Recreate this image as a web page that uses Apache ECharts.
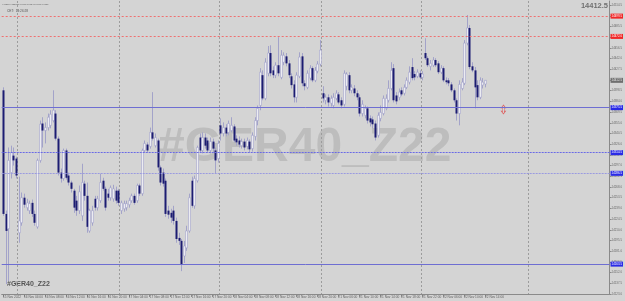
<!DOCTYPE html>
<html><head><meta charset="utf-8">
<script src="https://cdn.jsdelivr.net/npm/echarts@6/dist/echarts.min.js"></script>
<style>html,body{margin:0;padding:0;background:#d4d4d4;overflow:hidden}#c{width:625px;height:301px}</style>
</head><body><div id="c"></div>
<script>
const opens = [14399,14231.5,14211.5,14287.5,14310.5,14306.5,14206,14219.5,14253.5,14240,
14236,14246.5,14231.5,14214,14304,14354,14344.5,14348.5,14351.5,14358,
14367.5,14333.5,14287.5,14279.5,14317.5,14283.5,14274,14263,14249.5,14236,
14229,14272.5,14256,14208.5,14219.5,14252,14240,14249.5,14276.5,14265.5,
14259,14253.5,14252,14263,14263,14236,14238.5,14240,14244,14249.5,
14256,14249.5,14270,14259,14317.5,14325.5,14323,14342,14324,14331,
14294.5,14287.5,14276.5,14236,14233,14236,14222,14199,14195,14174.5,
14185.5,14208.5,14276.5,14242.5,14276.5,14335,14317.5,14335,14331,14317.5,
14329.5,14317.5,14306.5,14351.5,14340.5,14348.5,14342,14344.5,14350,14333.5,
14331,14324,14329.5,14323,14329.5,14320,14336.5,14358,14378.5,14419.5,
14388,14422,14449.5,14426,14419.5,14433,14416.5,14437,14445,14435.5,
14418,14407,14389.5,14418,14445,14408.5,14403,14415.5,14429,14412.5,
14425,14434.5,14395,14385.5,14389.5,14381.5,14378.5,14388,14393.5,14385.5,
14380,14404.5,14419.5,14399,14401.5,14395,14389.5,14367.5,14365,14374.5,
14361,14359.5,14354,14338,14361,14367.5,14374.5,14385.5,14401.5,14429,
14392,14389.5,14399,14395,14403,14410,14430.5,14421,14418,14422,
14416.5,14449.5,14442.5,14431.5,14433,14440,14435.5,14423.5,14429,14412.5,
14412.5,14407,14399,14385.5,14367.5,14401.5,14408.5,14463,14483.5,14431.5,
14426,14406,14389.5,14406,14407.5];
const highs = [14403,14236,14321.5,14324,14321.5,14309,14282,14260.5,14259,14252,
14249.5,14251,14236,14306.5,14358,14362.5,14355.5,14367.5,14372,14399,
14372,14336.5,14293,14320,14320,14287.5,14276.5,14265.5,14256,14270,
14299.5,14276.5,14274,14238.5,14242.5,14256,14256,14286,14280.5,14268.5,
14265.5,14270,14271,14268.5,14265.5,14249.5,14249.5,14249.5,14253.5,14259,
14259,14272.5,14272.5,14320,14331,14328.5,14348.5,14396.5,14340.5,14333.5,
14297,14293,14279.5,14242.5,14238.5,14242.5,14226.5,14206,14197.5,14195,
14215.5,14259,14282,14283.5,14324,14340.5,14342,14340.5,14335,14335,
14333.5,14321.5,14331,14361,14355.5,14353,14358,14362.5,14353,14338,
14336.5,14333.5,14333.5,14335,14332.5,14342,14362.5,14378.5,14429,14426,
14442.5,14459,14460,14431.5,14437,14471,14453.5,14450.5,14449.5,14440,
14422,14412.5,14423.5,14450.5,14449.5,14412.5,14426,14433,14431.5,14430.5,
14438.5,14467,14404.5,14393.5,14393.5,14392,14395,14399,14396.5,14389.5,
14426,14423.5,14423.5,14407,14406,14399,14393.5,14385.5,14378.5,14377,
14365,14363.5,14358,14369,14378.5,14392,14393.5,14412.5,14437,14434.5,
14396.5,14401.5,14403,14407,14416.5,14431.5,14442.5,14425,14427.5,14426,
14425,14469.5,14445,14440,14444,14442.5,14438.5,14433,14431.5,14416.5,
14415.5,14410,14401.5,14388,14412.5,14415.5,14467,14501,14487.5,14437,
14430.5,14412.5,14416.5,14415.5,14413];
const lows = [14229,14136.5,14140.5,14279.5,14297,14279.5,14192.5,14215.5,14240,14236,
14231.5,14227.5,14215.5,14211.5,14301,14321.5,14327,14344.5,14347.5,14355.5,
14331,14283.5,14274,14276.5,14278,14270,14260.5,14233,14229,14231.5,
14222,14249.5,14206,14206,14215.5,14236,14236,14246.5,14263,14236,
14249.5,14249.5,14248,14245.5,14242.5,14231.5,14234.5,14236,14240,14246.5,
14244,14246.5,14256,14256,14314.5,14314.5,14320,14331,14321.5,14290,
14270,14268.5,14227.5,14225,14219.5,14217,14192.5,14189.5,14154,14165,
14181.5,14206,14240,14238.5,14274,14314.5,14313.5,14320,14314.5,14313.5,
14314.5,14286,14301,14331,14336.5,14336.5,14338,14342,14328.5,14324,
14321.5,14320,14317.5,14319,14314.5,14316,14331,14351.5,14372,14385.5,
14385.5,14418,14418,14415.5,14415.5,14418,14414,14433,14431.5,14415.5,
14401.5,14382.5,14382.5,14415.5,14404.5,14399,14400.5,14412.5,14410,14410,
14422,14431.5,14382.5,14380,14377,14377,14374.5,14385.5,14380,14374.5,
14377,14399,14395,14395,14391,14385.5,14363.5,14363.5,14361,14354,
14350,14347.5,14331,14335,14357,14365,14372,14382.5,14399,14382.5,
14380,14385.5,14391,14392,14400.5,14407,14412.5,14412.5,14415.5,14414,
14412.5,14440,14430.5,14426,14430.5,14430.5,14421,14421,14410,14407,
14404.5,14396.5,14382.5,14358,14351.5,14399,14406,14460,14427.5,14423.5,
14374.5,14385.5,14387,14401.5,14403];
const closes = [14231.5,14208.5,14304,14314.5,14304,14283.5,14222,14253.5,14244,14246.5,
14245.5,14231.5,14219.5,14304,14353,14344.5,14348.5,14362.5,14366.5,14372,
14333.5,14287.5,14279.5,14317.5,14280.5,14274,14265.5,14240,14236,14261.5,
14274,14256,14214,14236,14236,14240,14252,14274,14265.5,14240,
14253.5,14267,14265.5,14249.5,14246.5,14246.5,14245.5,14245.5,14249.5,14256,
14246.5,14270,14259,14317.5,14327,14317.5,14342,14333.5,14335,14294.5,
14274,14272.5,14231.5,14230.5,14226.5,14222,14197.5,14195,14163.5,14188,
14208.5,14253.5,14242.5,14279.5,14321.5,14317.5,14335,14324,14317.5,14329.5,
14320,14304,14327,14340.5,14348.5,14340.5,14354,14351.5,14331,14328.5,
14325.5,14329.5,14321.5,14331,14319,14338,14358,14374.5,14423.5,14388,
14437,14449.5,14422,14419.5,14433,14422,14446.5,14446.5,14435.5,14419.5,
14406,14389.5,14419.5,14444,14408.5,14404.5,14422,14429,14412.5,14426,
14434.5,14453.5,14388,14389.5,14382.5,14388,14389.5,14395,14382.5,14378.5,
14422,14421,14399,14403,14395,14389.5,14367.5,14380,14374.5,14358,
14355.5,14353,14335,14365,14369,14388,14388,14401.5,14426,14385.5,
14384,14396.5,14393.5,14403,14412.5,14423.5,14415.5,14416.5,14423.5,14416.5,
14421,14442.5,14433,14435.5,14440,14433,14423.5,14429,14412.5,14410,
14408.5,14399,14385.5,14367.5,14407,14410,14463,14483.5,14430.5,14426,
14403,14389.5,14412.5,14410,14412.5];

const totalSlots = 232;
const tickBars = [0,8,16,24,32,40,48,56,64,72,80,88,96,104,112,120,128,136,144,152,160,168,176,184];
const tickLabels = ['15 Nov 2022','16 Nov 04:00','16 Nov 08:00','16 Nov 12:00','16 Nov 16:00','16 Nov 20:00',
'17 Nov 04:00','17 Nov 08:00','17 Nov 12:00','17 Nov 16:00','17 Nov 20:00','18 Nov 04:00','18 Nov 08:00',
'18 Nov 12:00','18 Nov 16:00','18 Nov 20:00','21 Nov 06:00','21 Nov 10:00','21 Nov 14:00','21 Nov 18:00',
'21 Nov 22:00','22 Nov 06:00','22 Nov 10:00','22 Nov 14:00'];
const redLevels = [14499.5, 14472];
const blueSolidLevels = [14375.5, 14163.5];
const blueDotLevels = [14314.5, 14286.5];
const lastPrice = 14412.5;
const separatorBars = [6, 45, 83, 122, 160, 201];
const markerBar = 191;
const markerPrice = 14373;
const symbolName = '#GER40_Z22';
const headerText = '\u25AA #GER40_Z22,M30 14407.5 14413.0 14403.0 14412.5';
const clockText = 'CET:  14:26:28';

const categories = [];
for (let i = 0; i < totalSlots; i++) categories.push(String(i));
const labelMap = {};
tickBars.forEach((b, k) => { labelMap[b] = tickLabels[k]; });
const sepSet = new Set(separatorBars);
const candleData = opens.map((o, i) => [i, o, closes[i], lows[i], highs[i]]);

const chart = echarts.init(document.getElementById('c'), null, {renderer: 'canvas'});

function renderItem(params, api) {
  const i = api.value(0), o = api.value(1), c = api.value(2), l = api.value(3), h = api.value(4);
  const pO = api.coord([i, o]), pC = api.coord([i, c]), pL = api.coord([i, l]), pH = api.coord([i, h]);
  const x = Math.round(pO[0]);
  const bull = c >= o;
  const top = Math.min(pO[1], pC[1]);
  const hgt = Math.max(1, Math.abs(pO[1] - pC[1]));
  return {
    type: 'group',
    children: [
      {type: 'line', shape: {x1: x + 0.5, y1: pH[1], x2: x + 0.5, y2: pL[1]},
       style: {stroke: '#a3a3c9', lineWidth: 1}},
      {type: 'rect', shape: {x: x - 0.5, y: top, width: 2, height: hgt},
       style: bull ? {fill: '#ececf2', stroke: '#9a9ac6', lineWidth: 0.5} : {fill: '#1c1c72'}}
    ]
  };
}

const levelLines = [];
redLevels.forEach(v => levelLines.push({yAxis: v, lineStyle: {color: '#f07070', type: [2, 2], width: 1},
  label: {backgroundColor: '#f02828', color: '#fff'}}));
blueSolidLevels.forEach(v => levelLines.push({yAxis: v, lineStyle: {color: '#6e6ed2', type: 'solid', width: 1},
  label: {backgroundColor: '#2a2ae6', color: '#fff'}}));
blueDotLevels.forEach((v, k) => levelLines.push({yAxis: v, lineStyle: {color: k === 0 ? '#6a6ae6' : '#9a9ae0', type: [2, 1], width: 1},
  label: {backgroundColor: '#2a2ae6', color: '#fff'}}));
levelLines.push({yAxis: lastPrice, lineStyle: {color: 'rgba(0,0,0,0)', width: 0},
  label: {backgroundColor: '#6e6e6e', color: '#e8e8e8'}});

chart.setOption({
  backgroundColor: '#d4d4d4',
  animation: false,
  grid: {left: 0, right: 15, top: 1, bottom: 7},
  xAxis: {
    type: 'category', data: categories, boundaryGap: true,
    axisLine: {lineStyle: {color: '#8a8a8a'}},
    axisTick: {show: true, interval: (idx) => labelMap[idx] !== undefined, alignWithLabel: true, length: 3, lineStyle: {color: '#8a8a8a'}},
    axisLabel: {interval: (idx) => labelMap[idx] !== undefined, formatter: (v, idx) => labelMap[idx] || '',
      fontSize: 3.2, color: '#606060', align: 'left', margin: 1.5, fontFamily: 'Liberation Sans'},
    splitLine: {show: true, interval: (idx) => sepSet.has(idx), lineStyle: {color: '#9c9c9c', type: [2, 2], width: 1}},
    splitArea: {show: false}
  },
  yAxis: {
    type: 'value', position: 'right', min: 14123, max: 14520, interval: 14.5,
    axisLine: {show: true, lineStyle: {color: '#8a8a8a'}},
    axisTick: {show: true, length: 2, lineStyle: {color: '#8a8a8a'}},
    axisLabel: {fontSize: 2.9, color: '#6a6a6a', margin: 2, showMaxLabel: false, fontFamily: 'Liberation Sans',
      formatter: v => v.toFixed(1)},
    splitLine: {show: false}
  },
  graphic: [
    {type: 'text', left: 158, top: 124, z: -10, silent: true,
     style: {text: symbolName, fontSize: 48, fontWeight: 'bold', fontFamily: 'Liberation Sans', fill: '#bdbdbd'}},
    {type: 'text', left: 2, top: 3, style: {text: headerText, fontSize: 1.9, fontFamily: 'Liberation Sans', fill: '#555'}},
    {type: 'text', left: 7, top: 10, style: {text: clockText, fontSize: 3.2, fontFamily: 'Liberation Sans', fill: '#555'}},
    {type: 'text', right: 17, top: 1.5, style: {text: lastPrice.toFixed(1), fontSize: 7.5, fontWeight: 'bold', fontFamily: 'Liberation Sans', fill: '#707070'}},
    {type: 'text', left: 7, top: 281, style: {text: symbolName, fontSize: 7, fontWeight: 'bold', fontFamily: 'Liberation Sans', fill: '#555'}}
  ],
  series: [
    {type: 'custom', renderItem: renderItem, data: candleData, encode: {x: 0, y: [1, 2, 3, 4]}, z: 3, clip: true},
    {type: 'line', data: [], z: 2, symbol: 'none',
     markLine: {silent: true, symbol: 'none', animation: false,
       label: {position: 'end', fontSize: 2.9, padding: [1, 1], distance: 1, fontFamily: 'Liberation Sans', formatter: p => Number(p.value).toFixed(1)},
       data: levelLines}},
    {type: 'scatter', data: [[markerBar, markerPrice]], z: 4, symbolSize: [4, 9],
     symbol: 'path://M5 0 L10 6 L7 6 L7 14 L10 14 L5 20 L0 14 L3 14 L3 6 L0 6 Z',
     itemStyle: {color: 'rgba(0,0,0,0)', borderColor: '#e04040', borderWidth: 0.7}}
  ]
});
</script></body></html>
